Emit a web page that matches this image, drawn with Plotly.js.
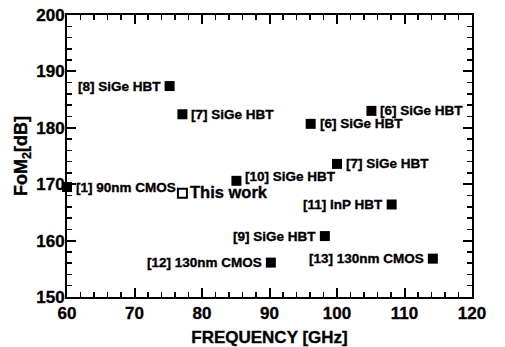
<!DOCTYPE html>
<html><head><meta charset="utf-8">
<script src="https://cdn.plot.ly/plotly-3.0.1.min.js"></script>
<style>body{margin:0;background:#fff}#chart{width:505px;height:347px}
#chart svg text{stroke:#000;stroke-width:0.35px}</style>
</head><body><div id="chart"></div>
<script>
const labels = ["[8] SiGe HBT","[7] SiGe HBT","[6] SiGe HBT","[6] SiGe HBT","[7] SiGe HBT","[10] SiGe HBT","[1] 90nm CMOS","[11] InP HBT","[9] SiGe HBT","[12] 130nm CMOS","[13] 130nm CMOS"];
const freq = [75.2, 77.1, 105.1, 96.1, 100.0, 85.1, 60.0, 108.1, 98.2, 90.2, 114.2];
const fom = [187.4, 182.4, 183.0, 180.7, 173.6, 170.6, 169.5, 166.4, 160.8, 156.1, 156.8];
const labelSide = ["left","right","right","right","right","right","right","left","left","left","left"];
const thisWorkLabel = ["This work"];
const thisWorkFreq = [77.1];
const thisWorkFom = [168.4];

const fnt = "Liberation Sans, Arial, sans-serif";
const traces = [
  {x: freq, y: fom, type: "scatter", mode: "markers", cliponaxis: false,
   marker: {symbol: "square", size: 10, color: "#000"}, hoverinfo: "none"},
  {x: thisWorkFreq, y: thisWorkFom, type: "scatter", mode: "markers", cliponaxis: false,
   marker: {symbol: "square-open", size: 9, color: "#000", line: {width: 2}}, hoverinfo: "none"}
];
const annotations = labels.map((t, i) => ({
  x: freq[i], y: fom[i], text: "<b>" + t + "</b>", showarrow: false,
  xanchor: labelSide[i] === "left" ? "right" : "left",
  xshift: labelSide[i] === "left" ? -7 : 7,
  yshift: i === 5 ? 4 : 0,
  font: {family: fnt, size: 13.5, color: "#000"}
}));
annotations.push({x: thisWorkFreq[0], y: thisWorkFom[0], text: "<b>" + thisWorkLabel[0] + "</b>",
  showarrow: false, xanchor: "left", xshift: 6, yshift: 1, font: {family: fnt, size: 16.5, color: "#000"}});

const axisCommon = {
  showgrid: false, zeroline: false, showline: true, linecolor: "#000", linewidth: 2,
  mirror: "allticks", ticks: "inside", ticklen: 9, tickwidth: 2, tickcolor: "#000",
  tickprefix: "<b>", ticksuffix: "</b>",
  tickfont: {family: fnt, size: 17, color: "#000"},
  minor: {dtick: 2, ticks: "inside", ticklen: 5, tickwidth: 1.5, tickcolor: "#000"}
};
const layout = {
  width: 505, height: 347,
  margin: {l: 67, r: 33, t: 15, b: 50},
  paper_bgcolor: "#fff", plot_bgcolor: "#fff",
  showlegend: false,
  xaxis: Object.assign({}, axisCommon, {range: [60, 120], dtick: 10, tick0: 60,
    title: {text: "<b>FREQUENCY [GHz]</b>", font: {family: fnt, size: 17, color: "#000"}, standoff: 11}}),
  yaxis: Object.assign({}, axisCommon, {range: [150, 200], dtick: 10, tick0: 150, ticklabelstandoff: -3,
    title: {text: "<b>FoM<sub>2</sub>[dB]</b>", font: {family: fnt, size: 18, color: "#000"}, standoff: 4}}),
  annotations: annotations
};
Plotly.newPlot("chart", traces, layout, {staticPlot: true});
</script></body></html>
